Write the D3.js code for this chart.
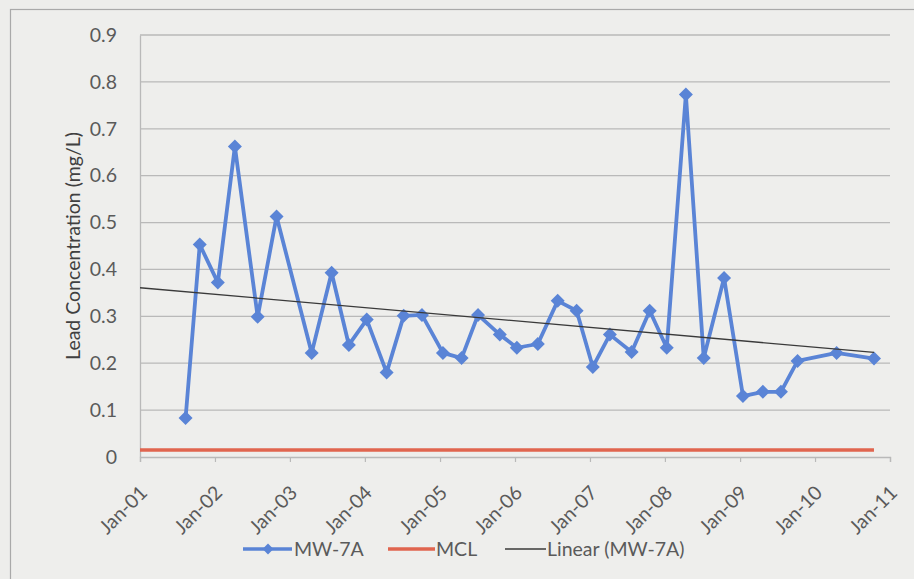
<!DOCTYPE html>
<html><head><meta charset="utf-8">
<script src="https://cdn.jsdelivr.net/npm/d3@7"></script>
<style>
html,body{margin:0;padding:0;background:#ededeb;}
svg{display:block;}
text{font-family:Lato,"Open Sans",sans-serif;}
</style></head>
<body>
<svg id="c" width="914" height="579"></svg>
<script>
// ---- data ----
const sampleDates = ["2001-08-11","2001-10-19","2002-01-15","2002-04-08","2002-07-28","2002-10-28",
  "2003-04-17","2003-07-23","2003-10-15","2004-01-10","2004-04-16","2004-07-08","2004-10-05",
  "2005-01-15","2005-04-16","2005-07-05","2005-10-19","2006-01-10","2006-04-22","2006-07-28",
  "2006-10-28","2007-01-15","2007-04-08","2007-07-23","2007-10-19","2008-01-10","2008-04-12",
  "2008-07-08","2008-10-15","2009-01-15","2009-04-22","2009-07-19","2009-10-08","2010-04-16","2010-10-15"];
const mw7a = [0.083,0.453,0.372,0.662,0.299,0.513,
  0.222,0.393,0.239,0.293,0.180,0.301,0.303,
  0.222,0.211,0.303,0.261,0.233,0.241,0.333,
  0.312,0.192,0.261,0.224,0.312,0.233,0.773,
  0.211,0.382,0.130,0.139,0.139,0.205,0.222,0.210];
const mclDates = ["2001-01-01","2010-10-15"];
const mclValues = [0.015,0.015];
const trendDates = ["2001-01-01","2010-10-15"];
const trendValues = [0.361,0.223];
const yTicks = [0,0.1,0.2,0.3,0.4,0.5,0.6,0.7,0.8,0.9];
const xTickYears = [2001,2002,2003,2004,2005,2006,2007,2008,2009,2010,2011];
const yTitle = "Lead Concentration (mg/L)";
const legendLabels = ["MW-7A","MCL","Linear (MW-7A)"];

// ---- chart ----
const parse = d3.timeParse("%Y-%m-%d");
const svg = d3.select("#c");
const L=140,R=890,T=35,B=457;
const x = d3.scaleTime().domain([new Date(2001,0,1), new Date(2011,0,1)]).range([L,R]);
const y = d3.scaleLinear().domain([0,0.9]).range([B,T]);

const blue="#5a84d6", red="#e0654f", dark="#3a3a3a", txt="#5a5a5a";
const fs = "19.5px";

// chart border
svg.append("rect").attr("x",10.5).attr("y",9.5).attr("width",920).attr("height",590)
  .attr("fill","#eeeeec").attr("stroke","#a9a9a9").attr("stroke-width",1.2);

// gridlines
svg.append("g").selectAll("line").data(yTicks.slice(1)).join("line")
  .attr("x1",L).attr("x2",R).attr("y1",d=>y(d)).attr("y2",d=>y(d))
  .attr("stroke","#b9b9b9").attr("stroke-width",1.3);

// y axis
const ya = svg.append("g").attr("transform",`translate(${L},0)`)
  .call(d3.axisLeft(y).tickValues(yTicks).tickSize(0).tickPadding(23).tickFormat(d=>d===0?"0":d3.format(".1f")(d)));
ya.select(".domain").attr("stroke","#b9b9b9").attr("stroke-width",1.3);
ya.selectAll("text").attr("fill",txt).style("font-size",fs).style("font-family","Lato,sans-serif");

// x axis
const xa = svg.append("g").attr("transform",`translate(0,${B})`)
  .call(d3.axisBottom(x).tickValues(xTickYears.map(yy=>new Date(yy,0,1))).tickSize(5).tickFormat(d3.timeFormat("Jan-%y")));
xa.select(".domain").attr("stroke","#b9b9b9").attr("stroke-width",1.3);
xa.selectAll(".tick line").attr("stroke","#b9b9b9").attr("stroke-width",1.2);
xa.selectAll("text").attr("fill",txt).style("font-size",fs).style("font-family","Lato,sans-serif")
  .attr("text-anchor","end").attr("x",0).attr("y",0).attr("dy","0").attr("transform","translate(8,37) rotate(-45)");

// y title
svg.append("text").attr("transform",`translate(80,${(T+B)/2}) rotate(-90)`)
  .attr("text-anchor","middle").attr("fill","#404040").style("font-size",fs).text(yTitle);

// MCL
const line = d3.line().x(d=>x(d[0])).y(d=>y(d[1]));
svg.append("path").datum(mclDates.map((d,i)=>[parse(d),mclValues[i]]))
  .attr("d",line).attr("fill","none").attr("stroke",red).attr("stroke-width",3.5);

// MW-7A
const pts = sampleDates.map((d,i)=>[parse(d),mw7a[i]]);
svg.append("path").datum(pts).attr("d",line).attr("fill","none")
  .attr("stroke",blue).attr("stroke-width",3.8).attr("stroke-linejoin","round");
const diamond = d3.symbol().type(d3.symbolDiamond2).size(125);
svg.append("g").selectAll("path").data(pts).join("path")
  .attr("transform",d=>`translate(${x(d[0])},${y(d[1])})`).attr("d",diamond).attr("fill",blue);

// trend
svg.append("path").datum(trendDates.map((d,i)=>[parse(d),trendValues[i]]))
  .attr("d",line).attr("fill","none").attr("stroke",dark).attr("stroke-width",1.3);

// legend
const ly=549;
const lg=svg.append("g");
lg.append("line").attr("x1",243).attr("x2",292).attr("y1",ly).attr("y2",ly).attr("stroke",blue).attr("stroke-width",3.5);
lg.append("path").attr("transform",`translate(268,${ly})`).attr("d",d3.symbol().type(d3.symbolDiamond2).size(75)()).attr("fill",blue);
lg.append("text").attr("x",294).attr("y",ly+7).attr("fill",txt).style("font-size",fs).text(legendLabels[0]);
lg.append("line").attr("x1",388).attr("x2",435).attr("y1",ly).attr("y2",ly).attr("stroke",red).attr("stroke-width",3.5);
lg.append("text").attr("x",436).attr("y",ly+7).attr("fill",txt).style("font-size",fs).text(legendLabels[1]);
lg.append("line").attr("x1",505).attr("x2",546).attr("y1",ly).attr("y2",ly).attr("stroke",dark).attr("stroke-width",1.3);
lg.append("text").attr("x",547).attr("y",ly+7).attr("fill",txt).style("font-size",fs).text(legendLabels[2]);
</script>
</body></html>
